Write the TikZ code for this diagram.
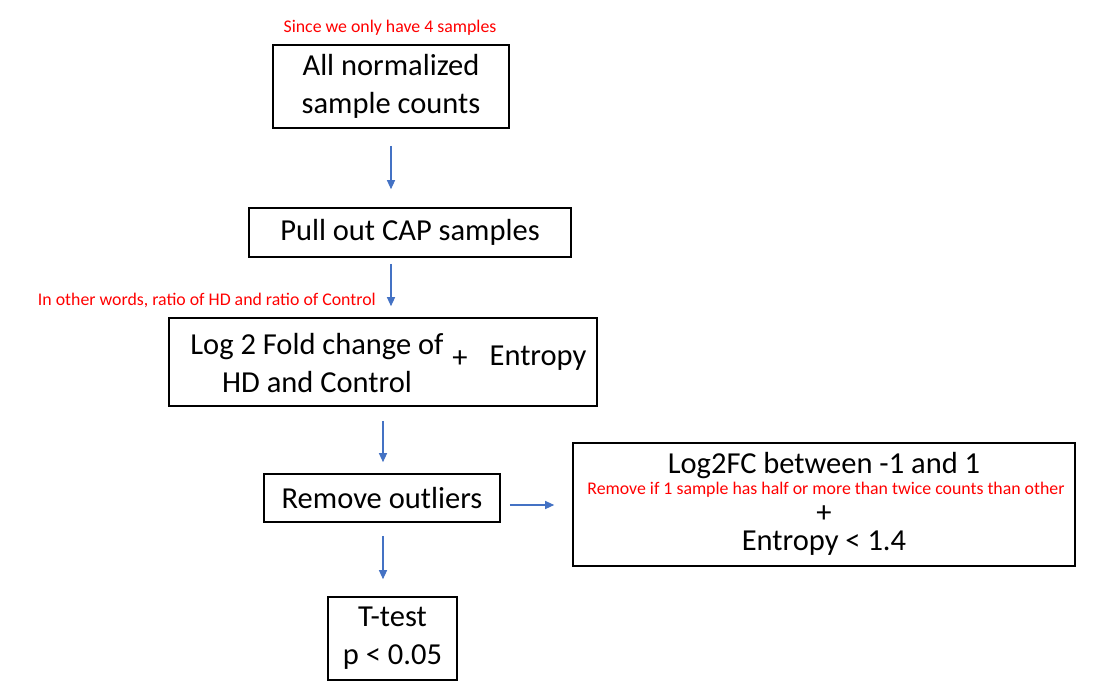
\documentclass[tikz,border=0pt]{standalone}
\usepackage{fontspec}
\setmainfont{Carlito}
\usetikzlibrary{positioning, arrows.meta, calc}
\definecolor{arrowblue}{RGB}{68,114,196}
\tikzset{
  process/.style={rectangle, draw=black, line width=1.6pt, text centered, font=\fontsize{30.5}{38}\selectfont, align=center},
  note/.style={text=red, font=\fontsize{17.8}{20}\selectfont, inner sep=0pt},
  big/.style={font=\fontsize{30.5}{38}\selectfont, inner sep=0pt, align=center},
  arrow/.style={arrowblue, line width=1.2pt, -{Triangle[length=9pt, width=8pt]}}
}
\begin{document}
\begin{tikzpicture}[x=1pt, y=-1pt]
  \useasboundingbox (0,0) rectangle (1094,698);

  \node (counts) [process, minimum width=236pt, minimum height=83pt] at (391,86.5) {All normalized\\sample counts};
  \node (since) [note] at (390,28) {Since we only have 4 samples};

  \node (pull) [process, minimum width=322pt, minimum height=49pt] at (410,232.5) {Pull out CAP samples};
  \node (words) [note, anchor=east] at (376,300) {In other words, ratio of HD and ratio of Control};

  \node (fold) [process, minimum width=428pt, minimum height=88pt] at (383,362) {};
  \node (foldtxt) [big] at (317,363) {Log 2 Fold change of\\HD and Control};
  \node (plus1) [big] at (460,359) {+};
  \node (entropy) [big] at (538,358) {Entropy};

  \node (outliers) [process, minimum width=236pt, minimum height=48pt] at (382,498) {Remove outliers};

  % criteria box
  \node (criteria) [process, minimum width=502pt, minimum height=123pt] at (824,504.5) {};
  \node (range) [big] at (824,465.5) {Log2FC between -1 and 1};
  \node (half) [note] at (826,490) {Remove if 1 sample has half or more than twice counts than other};
  \node (plus2) [big] at (824,514) {+};
  \node (cutoff) [big] at (824,543) {Entropy < 1.4};

  \node (ttest) [process, minimum width=129pt, minimum height=83pt] at (392.5,638.5) {T-test\\p < 0.05};

  \draw [arrow, shorten <=17pt, shorten >=18pt] (counts.south) -- (counts.south |- pull.north);
  \draw [arrow, shorten <=6pt, shorten >=11pt] (counts.south |- pull.south) -- (counts.south |- fold.north);
  \draw [arrow, shorten <=14pt, shorten >=11pt] (fold.south) -- (fold.south |- outliers.north);
  \draw [arrow, shorten <=9pt, shorten >=18pt] ($(outliers.east)+(0,7)$) -- ($(outliers.east -| criteria.west)+(0,7)$);
  \draw [arrow, shorten <=13pt, shorten >=17pt] (fold.south |- outliers.south) -- (fold.south |- ttest.north);
\end{tikzpicture}
\end{document}
